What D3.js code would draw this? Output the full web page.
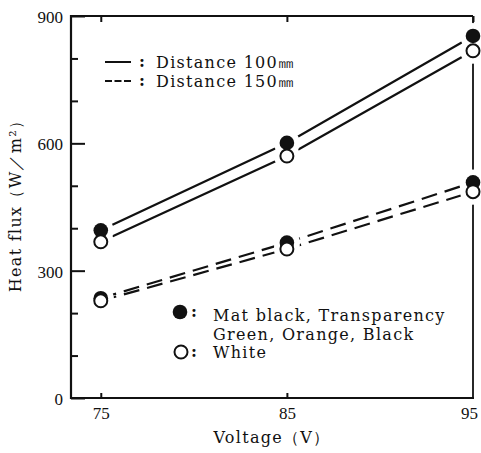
<!DOCTYPE html>
<html><head><meta charset="utf-8">
<script src="https://cdn.jsdelivr.net/npm/d3@7"></script>
<style>
html,body{margin:0;padding:0;background:#fff;}
svg{display:block;}
text{fill:#111;}
</style></head><body>
<svg id="chart" width="481" height="453"></svg>
<script>
// ---- data ----
const voltages = [75, 85, 95];
const d100Black = [395, 601, 853];
const d100White = [368, 570, 818];
const d150Black = [235, 366, 508];
const d150White = [229, 351, 486];
const xTickLabels = [75, 85, 95];
const yTickLabels = [0, 300, 600, 900];
const yMinorTicks = [100, 200, 400, 500, 700, 800];
const xLabel = "Voltage（V）";
const yLabel = "Heat flux（W／m²）";
const legendLines = ["Distance 100㎜", "Distance 150㎜"];
const legendMarks = ["Mat black, Transparency", "Green, Orange, Black", "White"];

// ---- layout ----
const svg = d3.select("#chart");
const L = 71, R = 473, T = 16, B = 398;
const x = d3.scaleLinear().domain([73.4, 95]).range([L, R]);
const y = d3.scaleLinear().domain([0, 900]).range([B, T]);
const numFont = "Liberation Serif";
const txtFont = "DejaVu Serif";
const ink = "#111";
const LS = 1.3;

// frame
svg.append("line").attr("x1", L).attr("x2", R).attr("y1", T).attr("y2", T).attr("stroke", ink).attr("stroke-width", 1.8);
svg.append("line").attr("x1", R).attr("x2", R).attr("y1", T).attr("y2", B).attr("stroke", ink).attr("stroke-width", 1.8);
svg.append("line").attr("x1", L).attr("x2", L).attr("y1", T - 1).attr("y2", B + 1).attr("stroke", ink).attr("stroke-width", 2.2);
svg.append("line").attr("x1", L - 1).attr("x2", R + 1).attr("y1", B).attr("y2", B).attr("stroke", ink).attr("stroke-width", 2.2);

// left ticks (inward)
const yt = svg.append("g").attr("transform", `translate(${L},0)`)
  .call(d3.axisRight(y).tickValues(yTickLabels.concat(yMinorTicks)).tickFormat("").tickSizeOuter(0));
yt.select(".domain").remove();
yt.selectAll(".tick line").attr("stroke", ink).attr("stroke-width", 2)
  .attr("x2", d => yTickLabels.includes(d) ? 14 : 7);

// left labels
const yl = svg.append("g").attr("transform", `translate(${L},0)`)
  .call(d3.axisLeft(y).tickValues(yTickLabels).tickSize(0).tickPadding(8));
yl.select(".domain").remove();
yl.selectAll("text").attr("font-family", numFont).attr("font-size", 17).attr("fill", ink).attr("dy", "0.38em");

// bottom ticks (inward) and top ticks
const xt = svg.append("g").attr("transform", `translate(0,${B})`)
  .call(d3.axisTop(x).tickValues([75, 85]).tickFormat("").tickSizeOuter(0).tickSize(5));
xt.select(".domain").remove();
xt.selectAll(".tick line").attr("stroke", ink).attr("stroke-width", 2);
const xtt = svg.append("g").attr("transform", `translate(0,${T})`)
  .call(d3.axisBottom(x).tickValues([75, 85, 95]).tickFormat("").tickSizeOuter(0).tickSize(6));
xtt.select(".domain").remove();
xtt.selectAll(".tick line").attr("stroke", ink).attr("stroke-width", 2);

// bottom labels
const xl = svg.append("g").attr("transform", `translate(0,${B})`)
  .call(d3.axisBottom(x).tickValues(xTickLabels).tickSize(0).tickPadding(9));
xl.select(".domain").remove();
xl.selectAll("text").attr("font-family", numFont).attr("font-size", 17).attr("fill", ink)
  .attr("dx", d => d === 95 ? -4 : 0);

// axis titles
svg.append("text").attr("x", 272).attr("y", 443).attr("text-anchor", "middle")
  .attr("font-family", txtFont).attr("font-size", 16).attr("letter-spacing", LS).text(xLabel);
svg.append("text").attr("transform", "translate(21,202) rotate(-90)").attr("text-anchor", "middle")
  .attr("font-family", txtFont).attr("font-size", 16).attr("letter-spacing", LS).text(yLabel);

// series lines
const series = [
  {vals: d100Black, dash: null},
  {vals: d100White, dash: null},
  {vals: d150Black, dash: "16,8"},
  {vals: d150White, dash: "16,8"}
];
const line = d3.line().x((d, i) => x(voltages[i])).y(d => y(d));
series.forEach(s => {
  svg.append("path").attr("d", line(s.vals)).attr("fill", "none").attr("stroke", ink)
    .attr("stroke-width", 2.2).attr("stroke-dasharray", s.dash);
});

// halos (gaps around markers)
const allPts = [];
[d100Black, d100White, d150Black, d150White].forEach((arr, k) => arr.forEach((v, i) => allPts.push({x: voltages[i], v, black: k % 2 === 0})));
svg.append("g").selectAll("circle").data(allPts).join("circle")
  .attr("cx", d => x(d.x)).attr("cy", d => y(d.v)).attr("r", 13).attr("fill", "#fff");
// markers: black then white
svg.append("g").selectAll("circle").data(allPts.filter(d => d.black)).join("circle")
  .attr("cx", d => x(d.x)).attr("cy", d => y(d.v)).attr("r", 7.3).attr("fill", ink);
svg.append("g").selectAll("circle").data(allPts.filter(d => !d.black)).join("circle")
  .attr("cx", d => x(d.x)).attr("cy", d => y(d.v)).attr("r", 6.5).attr("fill", "#fff")
  .attr("stroke", ink).attr("stroke-width", 2);

// legend 1 (line styles)
const lg1 = [{y: 62, dash: null}, {y: 81, dash: "7,2.5"}];
lg1.forEach((d, i) => {
  svg.append("line").attr("x1", 105).attr("x2", 131).attr("y1", d.y).attr("y2", d.y)
    .attr("stroke", ink).attr("stroke-width", 2).attr("stroke-dasharray", d.dash);
  svg.append("text").attr("x", 142).attr("y", d.y + 5).attr("text-anchor", "middle")
    .attr("font-family", txtFont).attr("font-size", 16).attr("font-weight", "bold").text(":");
  svg.append("text").attr("x", 156).attr("y", d.y + 6)
    .attr("font-family", txtFont).attr("font-size", 16).attr("letter-spacing", LS).text(legendLines[i]);
});

// legend 2 (markers)
svg.append("circle").attr("cx", 180).attr("cy", 312).attr("r", 7.3).attr("fill", ink);
svg.append("circle").attr("cx", 181).attr("cy", 352).attr("r", 6.5).attr("fill", "#fff").attr("stroke", ink).attr("stroke-width", 2);
[312, 352].forEach(cy => {
  svg.append("text").attr("x", 194).attr("y", cy + 5).attr("text-anchor", "middle")
    .attr("font-family", txtFont).attr("font-size", 16).attr("font-weight", "bold").text(":");
});
const lg2y = [321, 340, 358];
legendMarks.forEach((t, i) => {
  svg.append("text").attr("x", 213).attr("y", lg2y[i])
    .attr("font-family", txtFont).attr("font-size", 16).attr("letter-spacing", LS).text(t);
});
</script>
</body></html>
